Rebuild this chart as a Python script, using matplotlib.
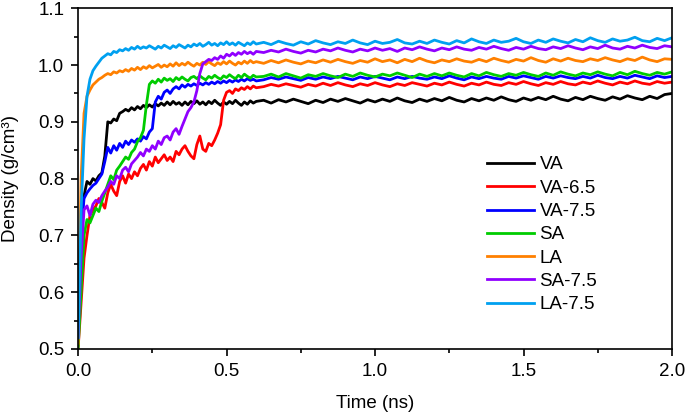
import numpy as np
import matplotlib
matplotlib.use("Agg")
import matplotlib.pyplot as plt

plt.rcParams['font.family'] = ['Liberation Sans', 'DejaVu Sans']

# density (g/cm3)
# early part: 0.00 .. 0.60 ns, step 0.01 ; late part: 0.625 .. 2.0 ns, step 0.025
labels = ["VA", "VA-6.5", "VA-7.5", "SA", "LA", "SA-7.5", "LA-7.5"]
colors = ["#000000", "#ff0000", "#0000ff", "#00cc00", "#ff8000", "#9000ff", "#00a0f0"]

va_early = [0.53, 0.73, 0.77, 0.795, 0.790, 0.800, 0.796, 0.805, 0.810, 0.840,
            0.900, 0.898, 0.905, 0.902, 0.915, 0.918, 0.922, 0.919, 0.925, 0.921,
            0.927, 0.923, 0.929, 0.925, 0.930, 0.926, 0.932, 0.928, 0.933, 0.929,
            0.935, 0.930, 0.936, 0.931, 0.934, 0.929, 0.935, 0.930, 0.936, 0.932,
            0.937, 0.931, 0.935, 0.930, 0.936, 0.932, 0.938, 0.933, 0.929, 0.935,
            0.931, 0.936, 0.932, 0.938, 0.933, 0.929, 0.935, 0.931, 0.937, 0.933,
            0.936]
va_late = [0.938, 0.933, 0.939, 0.935, 0.940, 0.936, 0.932, 0.938,
           0.934, 0.940, 0.936, 0.941, 0.937, 0.933, 0.939, 0.935,
           0.940, 0.936, 0.942, 0.937, 0.934, 0.940, 0.936, 0.941,
           0.937, 0.943, 0.938, 0.935, 0.941, 0.937, 0.942, 0.938,
           0.944, 0.939, 0.936, 0.942, 0.938, 0.943, 0.939, 0.945,
           0.940, 0.937, 0.943, 0.939, 0.945, 0.941, 0.938, 0.944,
           0.940, 0.946, 0.942, 0.939, 0.945, 0.941, 0.948, 0.950]

va65_early = [0.50, 0.58, 0.66, 0.70, 0.735, 0.745, 0.752, 0.765, 0.758, 0.748,
              0.775, 0.790, 0.778, 0.770, 0.795, 0.805, 0.792, 0.808, 0.800, 0.812,
              0.805, 0.818, 0.825, 0.815, 0.830, 0.822, 0.838, 0.828, 0.835, 0.842,
              0.832, 0.838, 0.830, 0.848, 0.842, 0.852, 0.858, 0.848, 0.840, 0.835,
              0.860, 0.875, 0.852, 0.848, 0.862, 0.858, 0.868, 0.880, 0.895, 0.938,
              0.952, 0.955, 0.950, 0.958, 0.955, 0.960, 0.957, 0.962, 0.958, 0.963,
              0.960]
va65_late = [0.962, 0.966, 0.963, 0.967, 0.964, 0.961, 0.966, 0.963,
             0.968, 0.964, 0.969, 0.965, 0.962, 0.967, 0.964, 0.969,
             0.965, 0.962, 0.967, 0.964, 0.969, 0.966, 0.963, 0.968,
             0.965, 0.970, 0.966, 0.963, 0.968, 0.965, 0.970, 0.966,
             0.964, 0.969, 0.966, 0.971, 0.967, 0.964, 0.969, 0.966,
             0.971, 0.967, 0.965, 0.970, 0.967, 0.972, 0.968, 0.965,
             0.970, 0.967, 0.972, 0.968, 0.966, 0.971, 0.968, 0.970]

va75_early = [0.52, 0.70, 0.765, 0.775, 0.782, 0.788, 0.792, 0.800, 0.808, 0.830,
              0.855, 0.845, 0.858, 0.850, 0.862, 0.855, 0.866, 0.860, 0.868, 0.864,
              0.870, 0.866, 0.874, 0.870, 0.882, 0.888, 0.935, 0.945, 0.940, 0.952,
              0.956, 0.950, 0.958, 0.962, 0.958, 0.965, 0.961, 0.966, 0.963, 0.967,
              0.964, 0.968, 0.965, 0.969, 0.966, 0.970, 0.967, 0.971, 0.968, 0.972,
              0.969, 0.973, 0.970, 0.974, 0.971, 0.975, 0.972, 0.976, 0.973, 0.975,
              0.972]
va75_late = [0.974, 0.978, 0.975, 0.979, 0.976, 0.973, 0.978, 0.975,
             0.979, 0.976, 0.980, 0.977, 0.974, 0.979, 0.976, 0.980,
             0.977, 0.974, 0.979, 0.976, 0.980, 0.977, 0.975, 0.979,
             0.976, 0.981, 0.977, 0.974, 0.979, 0.976, 0.980, 0.977,
             0.975, 0.980, 0.977, 0.981, 0.978, 0.975, 0.980, 0.977,
             0.981, 0.978, 0.976, 0.980, 0.977, 0.982, 0.978, 0.976,
             0.980, 0.977, 0.982, 0.979, 0.976, 0.981, 0.978, 0.980]

sa_early = [0.50, 0.60, 0.70, 0.728, 0.722, 0.735, 0.748, 0.742, 0.760, 0.775,
            0.790, 0.805, 0.798, 0.815, 0.822, 0.830, 0.838, 0.834, 0.846, 0.852,
            0.865, 0.872, 0.885, 0.930, 0.966, 0.972, 0.968, 0.975, 0.970, 0.977,
            0.973, 0.976, 0.971, 0.978, 0.974, 0.979, 0.975, 0.972, 0.978, 0.980,
            0.976, 0.981, 0.977, 0.974, 0.980, 0.977, 0.982, 0.978, 0.975, 0.981,
            0.978, 0.983, 0.979, 0.976, 0.982, 0.978, 0.984, 0.980, 0.977, 0.982,
            0.979]
sa_late = [0.980, 0.984, 0.979, 0.985, 0.981, 0.977, 0.983, 0.980,
           0.985, 0.981, 0.978, 0.984, 0.980, 0.986, 0.982, 0.979,
           0.984, 0.981, 0.986, 0.982, 0.978, 0.984, 0.980, 0.985,
           0.981, 0.986, 0.982, 0.979, 0.985, 0.981, 0.987, 0.983,
           0.980, 0.985, 0.982, 0.987, 0.983, 0.980, 0.986, 0.982,
           0.988, 0.984, 0.981, 0.986, 0.983, 0.988, 0.984, 0.981,
           0.987, 0.983, 0.989, 0.985, 0.982, 0.987, 0.984, 0.988]

la_early = [0.51, 0.80, 0.915, 0.945, 0.956, 0.965, 0.970, 0.975, 0.978, 0.982,
            0.985, 0.983, 0.988, 0.986, 0.990, 0.988, 0.992, 0.989, 0.994, 0.991,
            0.996, 0.992, 0.997, 0.994, 0.999, 0.995, 0.998, 1.001, 0.996, 1.000,
            0.997, 1.002, 0.998, 1.004, 0.999, 1.003, 1.000, 1.005, 1.001, 0.998,
            1.003, 1.000, 1.005, 1.001, 1.006, 1.002, 0.999, 1.004, 1.001, 1.006,
            1.002, 1.007, 1.003, 1.000, 1.005, 1.002, 1.007, 1.003, 1.008, 1.004,
            1.006]
la_late = [1.003, 1.008, 1.004, 1.009, 1.005, 1.002, 1.007, 1.004,
           1.009, 1.005, 1.010, 1.006, 1.003, 1.008, 1.005, 1.011,
           1.006, 1.009, 1.004, 1.010, 1.006, 1.012, 1.007, 1.004,
           1.009, 1.006, 1.011, 1.007, 1.005, 1.010, 1.006, 1.012,
           1.008, 1.005, 1.010, 1.007, 1.013, 1.008, 1.005, 1.011,
           1.007, 1.012, 1.008, 1.006, 1.011, 1.008, 1.013, 1.009,
           1.006, 1.011, 1.008, 1.014, 1.009, 1.006, 1.011, 1.010]

sa75_early = [0.52, 0.66, 0.745, 0.752, 0.735, 0.755, 0.762, 0.758, 0.770, 0.778,
              0.785, 0.795, 0.790, 0.805, 0.800, 0.815, 0.820, 0.812, 0.826, 0.832,
              0.838, 0.846, 0.840, 0.852, 0.848, 0.858, 0.852, 0.866, 0.860, 0.872,
              0.875, 0.868, 0.882, 0.888, 0.878, 0.892, 0.905, 0.918, 0.925, 0.935,
              0.955, 0.985, 1.002, 1.006, 1.010, 1.008, 1.013, 1.010, 1.016, 1.012,
              1.019, 1.016, 1.021, 1.017, 1.022, 1.019, 1.024, 1.020, 1.023, 1.019,
              1.024]
sa75_late = [1.022, 1.026, 1.023, 1.028, 1.024, 1.021, 1.026, 1.023,
             1.028, 1.025, 1.030, 1.026, 1.023, 1.028, 1.025, 1.030,
             1.026, 1.029, 1.024, 1.030, 1.027, 1.032, 1.028, 1.025,
             1.030, 1.027, 1.032, 1.028, 1.026, 1.031, 1.028, 1.033,
             1.029, 1.026, 1.031, 1.028, 1.033, 1.029, 1.027, 1.032,
             1.029, 1.034, 1.030, 1.027, 1.032, 1.029, 1.035, 1.030,
             1.028, 1.033, 1.030, 1.035, 1.031, 1.029, 1.034, 1.032]

la75_early = [0.52, 0.74, 0.87, 0.945, 0.975, 0.99, 0.998, 1.005, 1.012, 1.016,
              1.020, 1.018, 1.024, 1.022, 1.027, 1.025, 1.029, 1.026, 1.031, 1.028,
              1.033, 1.029, 1.032, 1.030, 1.034, 1.031, 1.028, 1.033, 1.030, 1.035,
              1.032, 1.029, 1.034, 1.031, 1.036, 1.033, 1.030, 1.035, 1.032, 1.037,
              1.034, 1.038, 1.033, 1.036, 1.040, 1.035, 1.038, 1.034, 1.039, 1.036,
              1.041, 1.036, 1.039, 1.035, 1.040, 1.037, 1.034, 1.039, 1.036, 1.041,
              1.037]
la75_late = [1.040, 1.036, 1.042, 1.038, 1.035, 1.041, 1.037, 1.043,
             1.039, 1.036, 1.041, 1.038, 1.044, 1.039, 1.036, 1.042,
             1.038, 1.040, 1.045, 1.039, 1.037, 1.042, 1.038, 1.044,
             1.040, 1.037, 1.043, 1.039, 1.046, 1.041, 1.038, 1.044,
             1.040, 1.042, 1.047, 1.041, 1.038, 1.044, 1.040, 1.046,
             1.042, 1.039, 1.045, 1.041, 1.048, 1.043, 1.040, 1.046,
             1.042, 1.044, 1.049, 1.043, 1.041, 1.047, 1.043, 1.048]

series = [(va_early, va_late), (va65_early, va65_late), (va75_early, va75_late),
          (sa_early, sa_late), (la_early, la_late), (sa75_early, sa75_late),
          (la75_early, la75_late)]

fig = plt.figure(figsize=(6.85, 4.13), dpi=100)
ax = fig.add_axes([0.114, 0.155, 0.867, 0.825])

for (early, late), lab, col in zip(series, labels, colors):
    t = np.concatenate([np.linspace(0, 0.6, len(early)),
                        np.linspace(0.625, 2.0, len(late))])
    y = np.concatenate([early, late])
    ax.plot(t, y, color=col, lw=2.0, label=lab)

ax.set_xlim(0, 2.0)
ax.set_ylim(0.5, 1.1)
ax.set_xticks([0, 0.5, 1.0, 1.5, 2.0])
ax.set_xticks([0.25, 0.75, 1.25, 1.75], minor=True)
ax.set_yticks(np.arange(0.5, 1.11, 0.1))
ax.set_yticks(np.arange(0.55, 1.1, 0.1), minor=True)
ax.xaxis.set_major_formatter(matplotlib.ticker.FormatStrFormatter('%.1f'))
ax.yaxis.set_major_formatter(matplotlib.ticker.FormatStrFormatter('%.1f'))
ax.tick_params(which='major', direction='out', length=5, width=1.2,
               labelsize=13.5, pad=5)
ax.tick_params(which='minor', direction='out', length=3, width=1.2)
for s in ax.spines.values():
    s.set_linewidth(1.2)

ax.set_xlabel("Time (ns)", fontsize=13.5, labelpad=11)
ax.set_ylabel("Density (g/cm³)", fontsize=13.5, labelpad=14)

ax.legend(loc='upper left', bbox_to_anchor=(0.66, 0.615), frameon=False,
          fontsize=13.5, handlelength=2.5, handletextpad=0.3, labelspacing=0.33)

fig.savefig("out.png", dpi=100)
